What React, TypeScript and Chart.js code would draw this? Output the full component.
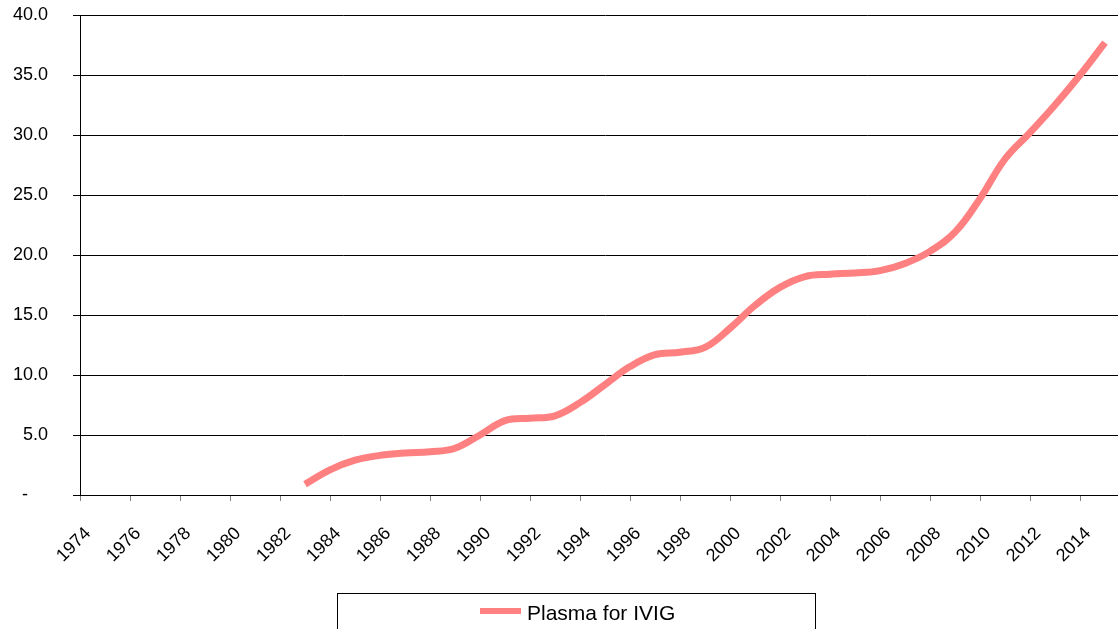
import React, { useEffect, useRef } from "react";
import { Chart, registerables } from "chart.js";

Chart.register(...registerables);

const years = [
  1983, 1984, 1985, 1986, 1987, 1988, 1989, 1990, 1991, 1992, 1993,
  1994, 1995, 1996, 1997, 1998, 1999, 2000, 2001, 2002, 2003, 2004,
  2005, 2006, 2007, 2008, 2009, 2010, 2011, 2012, 2013, 2014, 2015,
];
const plasmaForIVIG = [
  0.9, 2.1, 2.9, 3.3, 3.5, 3.6, 3.9, 5.0, 6.2, 6.4, 6.6,
  7.7, 9.2, 10.7, 11.7, 11.9, 12.3, 13.9, 15.8, 17.3, 18.2, 18.4,
  18.5, 18.7, 19.3, 20.3, 21.9, 24.7, 28.0, 30.2, 32.5, 35.0, 37.7,
];
const seriesLabel = "Plasma for IVIG";
const xMin = 1974;
const xMax = 2016;
const lastXLabel = 2014;
const yMin = 0;
const yMax = 40;
const yStep = 5;

const FONT = "Arial, 'Liberation Sans', sans-serif";
const LINE_COLOR = "#FF8080";

const legendBoxPlugin = {
  id: "legendBox",
  afterDraw(chart: any) {
    const ctx = chart.ctx;
    ctx.save();
    ctx.strokeStyle = "#000";
    ctx.lineWidth = 1;
    ctx.strokeRect(337.5, 593.5, 478, 60);
    ctx.strokeStyle = LINE_COLOR;
    ctx.lineWidth = 6;
    ctx.beginPath();
    ctx.moveTo(480, 611);
    ctx.lineTo(521, 611);
    ctx.stroke();
    ctx.fillStyle = "#000";
    ctx.font = `21px ${FONT}`;
    ctx.textAlign = "left";
    ctx.textBaseline = "alphabetic";
    ctx.fillText(seriesLabel, 527, 619.5);
    ctx.restore();
  },
};

export default function App() {
  const ref = useRef<HTMLCanvasElement | null>(null);

  useEffect(() => {
    if (!ref.current) return;
    const chart = new Chart(ref.current, {
      type: "line",
      data: {
        datasets: [
          {
            label: seriesLabel,
            data: years.map((y, i) => ({ x: y, y: plasmaForIVIG[i] })),
            borderColor: LINE_COLOR,
            backgroundColor: LINE_COLOR,
            borderWidth: 7,
            pointRadius: 0,
            tension: 0.4,
            fill: false,
          },
        ],
      },
      options: {
        animation: false,
        responsive: false,
        devicePixelRatio: 1,
        layout: { padding: { top: 15, right: 20, left: 0, bottom: 0 } },
        plugins: {
          legend: { display: false },
          tooltip: { enabled: false },
        },
        scales: {
          x: {
            type: "linear",
            min: xMin,
            max: xMax,
            afterFit: (scale: any) => {
              scale.height = 134;
              scale.paddingLeft = 0;
              scale.paddingRight = 0;
            },
            ticks: {
              stepSize: 2,
              autoSkip: false,
              maxRotation: 45,
              minRotation: 45,
              padding: 22,
              labelOffset: 8,
              color: "#000",
              font: { family: FONT, size: 18 },
              callback: (v: any) => (Number(v) <= lastXLabel ? String(v) : ""),
            },
            grid: {
              display: true,
              drawOnChartArea: false,
              drawTicks: true,
              tickLength: 6,
              tickColor: "#808080",
            },
            border: { display: true, color: "#000", width: 1 },
          },
          y: {
            min: yMin,
            max: yMax,
            afterFit: (scale: any) => {
              scale.width = 80;
              scale.paddingTop = 0;
              scale.paddingBottom = 0;
            },
            ticks: {
              stepSize: yStep,
              padding: 25,
              color: "#000",
              font: { family: FONT, size: 18 },
              callback: (v: any) => (Number(v) === 0 ? "-    " : Number(v).toFixed(1)),
            },
            grid: {
              color: "#000",
              lineWidth: 1,
              tickLength: 7,
              tickColor: "#000",
            },
            border: { display: true, color: "#000", width: 1 },
          },
        },
      },
      plugins: [legendBoxPlugin],
    });
    return () => chart.destroy();
  }, []);

  return (
    <div
      style={{
        position: "fixed",
        left: 0,
        top: 0,
        width: 1118,
        height: 629,
        overflow: "hidden",
        background: "#fff",
      }}
    >
      <canvas ref={ref} width={1150} height={629} style={{ display: "block" }} />
    </div>
  );
}
